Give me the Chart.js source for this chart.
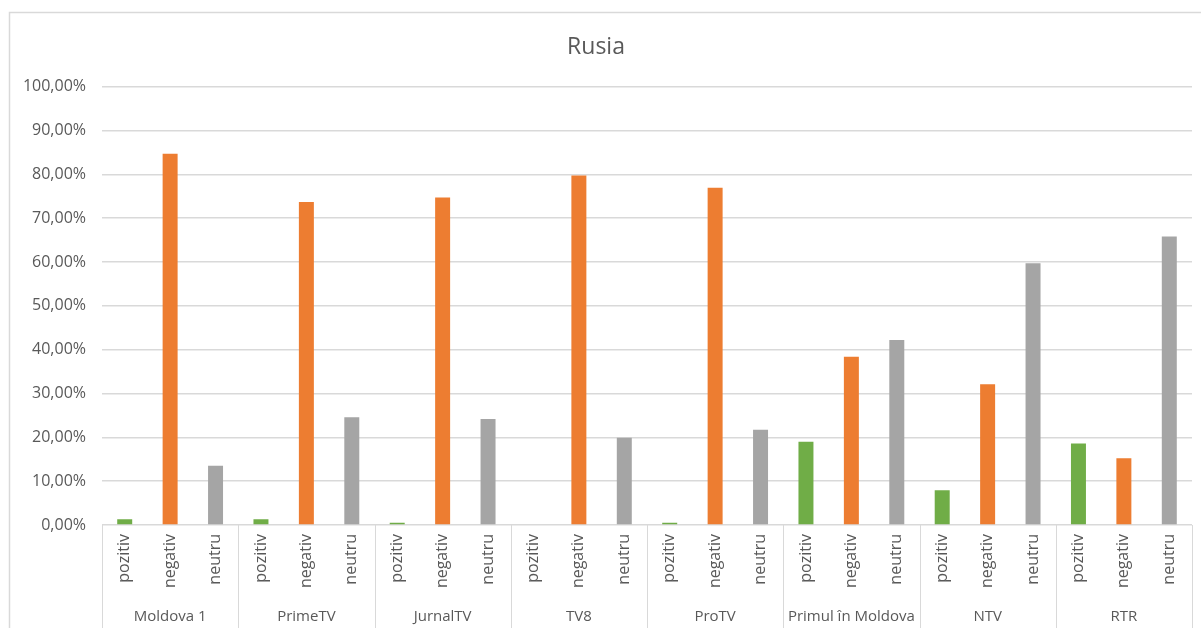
<!DOCTYPE html>
<html>
<head>
<meta charset="utf-8">
<script src="https://cdn.jsdelivr.net/npm/chart.js@4/dist/chart.umd.min.js"></script>
<style>
  html, body { margin: 0; padding: 0; background: #fff; }
  #wrap { width: 1201px; height: 628px; }
</style>
</head>
<body>
<div id="wrap"><canvas id="myChart"></canvas></div>
<script>
'use strict';

var groups = ['Moldova 1', 'PrimeTV', 'JurnalTV', 'TV8', 'ProTV', 'Primul în Moldova', 'NTV', 'RTR'];
var sentiments = ['pozitiv', 'negativ', 'neutru'];
var pozitiv = [1.3, 1.3, 0.5, 0, 0.5, 19.0, 7.9, 18.6];
var negativ = [84.7, 73.7, 74.7, 79.7, 76.9, 38.4, 32.1, 15.2];
var neutru = [13.5, 24.6, 24.2, 19.9, 21.7, 42.2, 59.7, 65.8];
var yTicks = [0, 10, 20, 30, 40, 50, 60, 70, 80, 90, 100];

var colors = ['#70ad47', '#ed7d31', '#a5a5a5'];
var txt = '#595959';
var line = '#d9d9d9';
var font = "'Open Sans', sans-serif";

// flatten into one label per bar
var labels = [];
var values = [];
var barColors = [];
for (var i = 0; i < groups.length; i++) {
  var row = [pozitiv[i], negativ[i], neutru[i]];
  for (var s = 0; s < sentiments.length; s++) {
    labels.push(sentiments[s]);
    values.push(row[s]);
    barColors.push(colors[s]);
  }
}

// frame + group labels below the category labels
var groupPlugin = {
  id: 'groupPlugin',
  beforeDraw: function(chart) {
    var ctx = chart.ctx;
    ctx.save();
    ctx.fillStyle = '#fff';
    ctx.fillRect(0, 0, chart.width, chart.height);
    ctx.strokeStyle = line;
    ctx.lineWidth = 1.5;
    ctx.beginPath();
    ctx.moveTo(9.5, chart.height + 5);
    ctx.lineTo(9.5, 12.5);
    ctx.lineTo(chart.width + 5, 12.5);
    ctx.stroke();
    ctx.restore();
  },
  afterDraw: function(chart) {
    var ctx = chart.ctx;
    var x = chart.scales.x;
    var area = chart.chartArea;
    var slot = x.getPixelForValue(1) - x.getPixelForValue(0);
    ctx.save();
    ctx.strokeStyle = line;
    ctx.lineWidth = 1;
    ctx.beginPath();
    for (var g = 0; g <= groups.length; g++) {
      var px = Math.round(x.getPixelForValue(g * 3) - slot / 2) + 0.5;
      ctx.moveTo(px, area.bottom);
      ctx.lineTo(px, chart.height);
    }
    ctx.stroke();
    ctx.fillStyle = txt;
    ctx.font = '15px ' + font;
    ctx.textAlign = 'center';
    ctx.textBaseline = 'middle';
    for (var k = 0; k < groups.length; k++) {
      var cx = (x.getPixelForValue(k * 3) + x.getPixelForValue(k * 3 + 2)) / 2;
      ctx.fillText(groups[k], cx, 617);
    }
    ctx.restore();
  }
};

var myChart = new Chart(document.getElementById('myChart').getContext('2d'), {
  type: 'bar',
  data: {
    labels: labels,
    datasets: [{
      data: values,
      backgroundColor: barColors,
      barPercentage: 0.33,
      categoryPercentage: 1
    }]
  },
  options: {
    responsive: true,
    maintainAspectRatio: false,
    animation: false,
    layout: { padding: { left: 0, right: 9, top: 0, bottom: 0 } },
    plugins: {
      legend: { display: false },
      tooltip: { enabled: false },
      title: {
        display: true,
        text: 'Rusia',
        color: txt,
        font: { family: font, size: 23, weight: 'normal' },
        padding: { top: 34, bottom: 25 }
      }
    },
    scales: {
      x: {
        grid: { display: false, drawTicks: false },
        border: { display: false },
        ticks: {
          color: txt,
          font: { family: font, size: 16 },
          minRotation: 90,
          maxRotation: 90,
          autoSkip: false,
          padding: 9
        },
        afterFit: function(scale) { scale.height = 103; }
      },
      y: {
        min: 0,
        max: 100,
        afterBuildTicks: function(scale) {
          scale.ticks = yTicks.map(function(v) { return { value: v }; });
        },
        grid: { color: line, lineWidth: 1.5, drawTicks: false },
        border: { display: false },
        ticks: {
          color: txt,
          font: { family: font, size: 16 },
          padding: 16,
          callback: function(v) { return v.toFixed(2).replace('.', ',') + '%'; }
        },
        afterFit: function(scale) { scale.width = 102; }
      }
    }
  },
  plugins: [groupPlugin]
});
</script>
</body>
</html>
